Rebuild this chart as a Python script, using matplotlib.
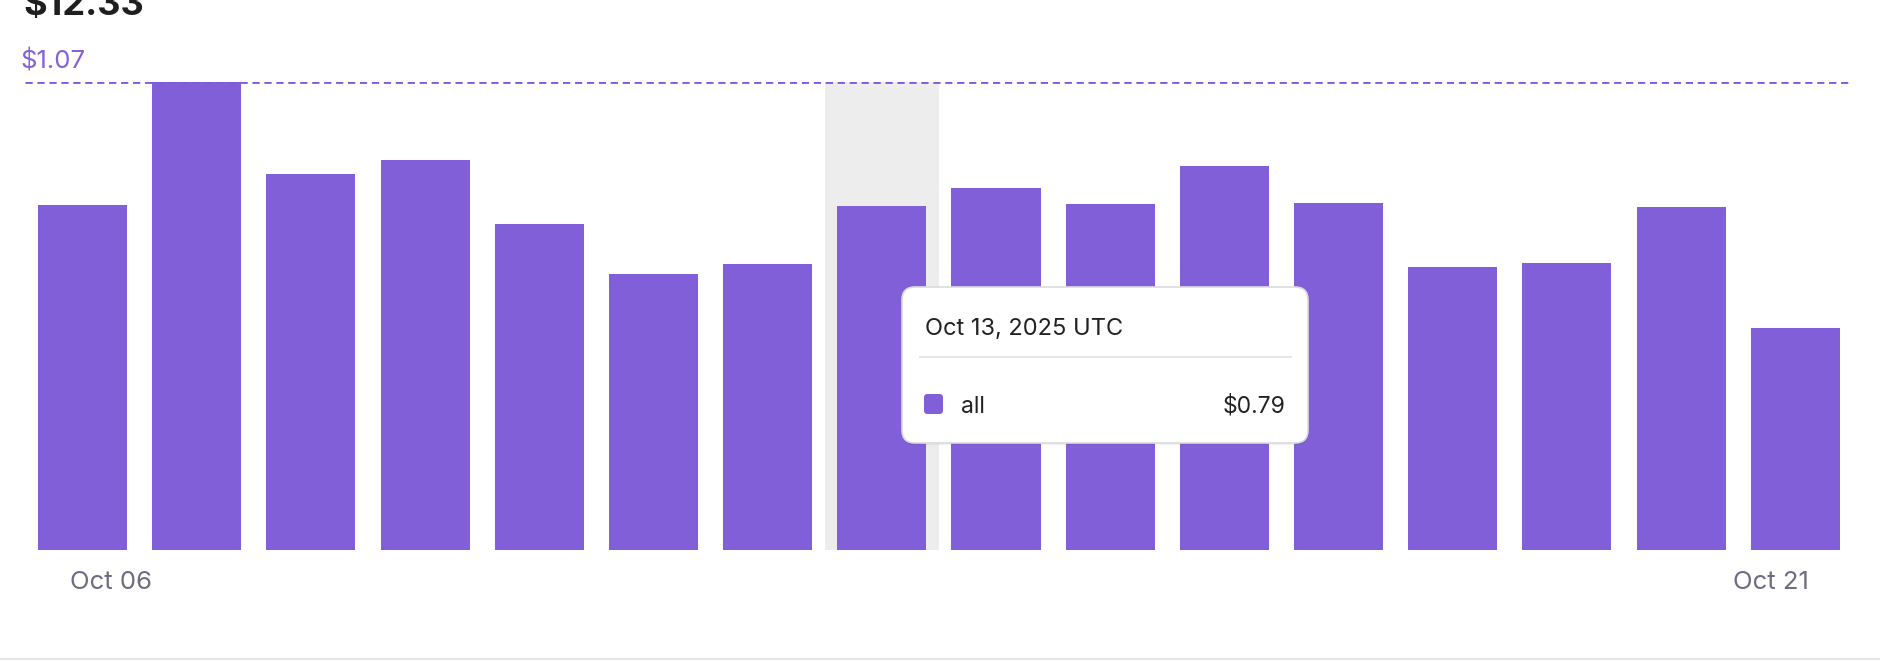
import matplotlib
matplotlib.use("Agg")
import matplotlib.pyplot as plt
from matplotlib.patches import FancyBboxPatch
from matplotlib.lines import Line2D

# daily spend, Oct 06 .. Oct 21 2025
days = ["Oct 06", "Oct 07", "Oct 08", "Oct 09", "Oct 10", "Oct 11", "Oct 12", "Oct 13",
        "Oct 14", "Oct 15", "Oct 16", "Oct 17", "Oct 18", "Oct 19", "Oct 20", "Oct 21"]
spend = [0.788, 1.07, 0.859, 0.892, 0.745, 0.630, 0.653, 0.786,
         0.828, 0.792, 0.878, 0.793, 0.647, 0.657, 0.784, 0.508]
total_label = "$12.33"
hover_idx = 7
hover_date = "Oct 13, 2025 UTC"
hover_series = "all"
hover_value = "$0.79"

W, H = 1880, 668
PURPLE = "#815fd8"
plt.rcParams["font.family"] = ["Inter", "DejaVu Sans"]

fig = plt.figure(figsize=(W / 100, H / 100), dpi=100)
ax = fig.add_axes([25.4 / W, 118 / H, 1827 / W, 468 / H])

x = list(range(len(spend)))
ax.axvspan(hover_idx - 0.5, hover_idx + 0.5, color="#ededed", lw=0, zorder=0)
ax.bar(x, spend, width=0.78, color=PURPLE, zorder=2)

top = max(spend)
ax.axhline(top, color="#7f58dc", lw=2.0, ls=(0, (2.6, 1.7)), zorder=3)
ax.annotate("$%.2f" % top, xy=(0, top), xycoords=ax.get_yaxis_transform(),
            xytext=(-3.3, 9.5), textcoords="offset points", color="#8462d9",
            fontsize=18.5, ha="left", va="baseline")

ax.set_xlim(-0.5, len(spend) - 0.5)
ax.set_ylim(0, top)
ax.set_xticks([0.25, len(spend) - 1.21], [days[0], days[-1]])
ax.tick_params(axis="x", length=0, pad=15, labelsize=18.5, labelcolor="#6e6d80")
ax.set_yticks([])
for s in ax.spines.values():
    s.set_visible(False)
ax.patch.set_alpha(0)

tr = fig.dpi_scale_trans


def pin(px, py):
    # pixel coords from the top-left -> inches from the bottom-left
    return px / 100, (H - py) / 100


fig.text(*pin(23, 15), total_label, transform=tr, fontsize=26, fontweight="bold",
         color="#1f1f1f", va="baseline")

# tooltip
bx, by = pin(902, 443)
shadow = FancyBboxPatch((bx, by - 0.02), 4.06, 1.56, boxstyle="round,pad=0,rounding_size=0.13",
                        transform=tr, facecolor="black", alpha=0.05, lw=0, zorder=5)
box = FancyBboxPatch((bx, by), 4.06, 1.56, boxstyle="round,pad=0,rounding_size=0.13",
                     transform=tr, facecolor="white", edgecolor="#dcdcdc", lw=1.2, zorder=6)
fig.add_artist(shadow)
fig.add_artist(box)
fig.text(*pin(925, 335), hover_date, transform=tr, fontsize=17, color="#222222",
         va="baseline", zorder=7)
fig.add_artist(Line2D([9.20, 12.91], [pin(0, 357)[1]] * 2, transform=tr,
                      color="#e4e4e4", lw=1.3, zorder=7))
sq = FancyBboxPatch(pin(924, 414), 0.19, 0.20, boxstyle="round,pad=0,rounding_size=0.035",
                    transform=tr, facecolor=PURPLE, lw=0, zorder=7)
fig.add_artist(sq)
fig.text(*pin(961, 412.7), hover_series, transform=tr, fontsize=16.5, color="#222222",
         va="baseline", zorder=7)
fig.text(*pin(1285, 412.7), hover_value, transform=tr, fontsize=16.5, color="#222222",
         va="baseline", ha="right", zorder=7)

# bottom separator
fig.add_artist(Line2D([0, W / 100], [pin(0, 659)[1]] * 2, transform=tr,
                      color="#e6e6e6", lw=1.6))

fig.savefig("out.png", dpi=100, facecolor="white")
